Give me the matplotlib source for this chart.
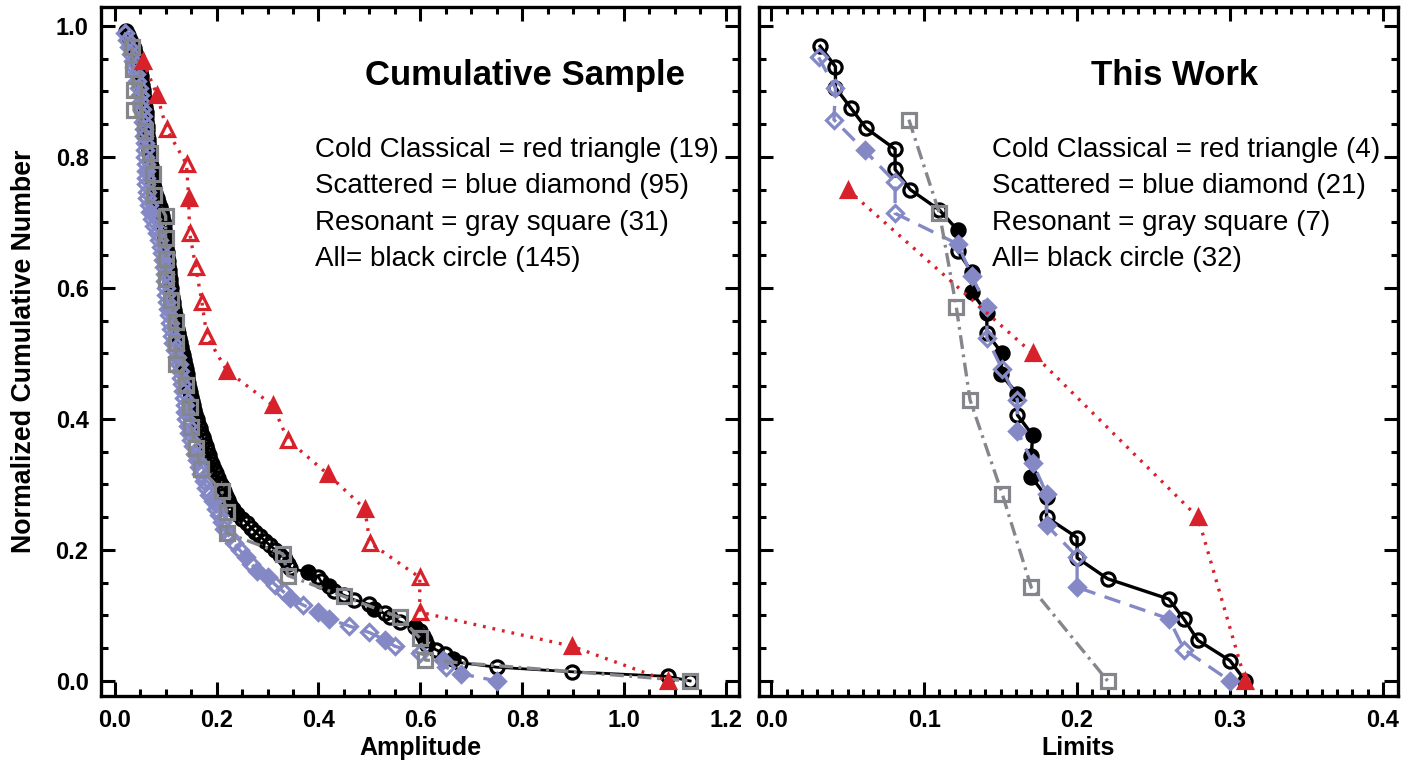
import matplotlib
matplotlib.use("Agg")
import matplotlib.pyplot as plt
from matplotlib.ticker import MultipleLocator

# ---- left panel: cumulative sample (amplitude, normalized cumulative number)
black_amp = [
    0.022, 0.026, 0.030, 0.034, 0.037, 0.040, 0.043, 0.045, 0.047, 0.049,
    0.051, 0.052, 0.053, 0.055, 0.056, 0.057, 0.058, 0.060, 0.061, 0.062,
    0.062, 0.063, 0.064, 0.064, 0.065, 0.066, 0.067, 0.068, 0.069, 0.070,
    0.071, 0.072, 0.073, 0.074, 0.075, 0.077, 0.079, 0.082, 0.085, 0.088,
    0.090, 0.092, 0.094, 0.096, 0.097, 0.098, 0.099, 0.100, 0.101, 0.102,
    0.103, 0.104, 0.105, 0.106, 0.107, 0.108, 0.109, 0.110, 0.111, 0.112,
    0.114, 0.115, 0.116, 0.118, 0.119, 0.121, 0.122, 0.124, 0.126, 0.128,
    0.130, 0.132, 0.134, 0.136, 0.138, 0.140, 0.141, 0.142, 0.144, 0.146,
    0.148, 0.150, 0.152, 0.154, 0.156, 0.158, 0.161, 0.164, 0.167, 0.170,
    0.173, 0.176, 0.179, 0.182, 0.185, 0.188, 0.191, 0.194, 0.198, 0.202,
    0.206, 0.210, 0.214, 0.218, 0.222, 0.226, 0.232, 0.240, 0.250, 0.260,
    0.268, 0.276, 0.285, 0.295, 0.305, 0.315, 0.325, 0.335, 0.340, 0.345,
    0.380, 0.400, 0.405, 0.420, 0.430, 0.450, 0.470, 0.500, 0.510, 0.530,
    0.540, 0.560, 0.590, 0.600, 0.605, 0.610, 0.613, 0.630, 0.648, 0.665,
    0.678, 0.750, 0.898, 1.086, 1.130,
]
black_frac = [
    0.993, 0.986, 0.979, 0.972, 0.966, 0.959, 0.952, 0.945, 0.938, 0.931,
    0.924, 0.917, 0.910, 0.903, 0.897, 0.890, 0.883, 0.876, 0.869, 0.862,
    0.855, 0.848, 0.841, 0.834, 0.828, 0.821, 0.814, 0.807, 0.800, 0.793,
    0.786, 0.779, 0.772, 0.766, 0.759, 0.752, 0.745, 0.738, 0.731, 0.724,
    0.717, 0.710, 0.703, 0.697, 0.690, 0.683, 0.676, 0.669, 0.662, 0.655,
    0.648, 0.641, 0.634, 0.628, 0.621, 0.614, 0.607, 0.600, 0.593, 0.586,
    0.579, 0.572, 0.566, 0.559, 0.552, 0.545, 0.538, 0.531, 0.524, 0.517,
    0.510, 0.503, 0.497, 0.490, 0.483, 0.476, 0.469, 0.462, 0.455, 0.448,
    0.441, 0.434, 0.428, 0.421, 0.414, 0.407, 0.400, 0.393, 0.386, 0.379,
    0.372, 0.366, 0.359, 0.352, 0.345, 0.338, 0.331, 0.324, 0.317, 0.310,
    0.303, 0.297, 0.290, 0.283, 0.276, 0.269, 0.262, 0.255, 0.248, 0.241,
    0.234, 0.228, 0.221, 0.214, 0.207, 0.200, 0.193, 0.186, 0.179, 0.172,
    0.166, 0.159, 0.152, 0.145, 0.138, 0.131, 0.124, 0.117, 0.110, 0.103,
    0.097, 0.090, 0.083, 0.076, 0.069, 0.062, 0.055, 0.048, 0.041, 0.034,
    0.028, 0.021, 0.014, 0.007, 0.000,
]
black_solid = [107, 120, 123, 128, 132, 134, 139]

blue_amp = [
    0.020, 0.024, 0.028, 0.031, 0.035, 0.038, 0.041, 0.044, 0.047, 0.049,
    0.051, 0.053, 0.055, 0.056, 0.057, 0.058, 0.059, 0.060, 0.060, 0.061,
    0.061, 0.062, 0.062, 0.063, 0.064, 0.067, 0.070, 0.074, 0.078, 0.082,
    0.086, 0.090, 0.092, 0.094, 0.096, 0.098, 0.099, 0.100, 0.101, 0.103,
    0.105, 0.107, 0.109, 0.111, 0.113, 0.115, 0.119, 0.123, 0.126, 0.128,
    0.130, 0.132, 0.134, 0.135, 0.137, 0.138, 0.140, 0.143, 0.146, 0.150,
    0.154, 0.158, 0.162, 0.166, 0.170, 0.175, 0.180, 0.186, 0.192, 0.198,
    0.205, 0.210, 0.215, 0.225, 0.235, 0.245, 0.258, 0.268, 0.280, 0.300,
    0.315, 0.330, 0.345, 0.370, 0.400, 0.420, 0.460, 0.500, 0.530, 0.550,
    0.600, 0.645, 0.650, 0.680, 0.750,
]
blue_frac = [
    0.989, 0.979, 0.968, 0.958, 0.947, 0.937, 0.926, 0.916, 0.905, 0.895,
    0.884, 0.874, 0.863, 0.853, 0.842, 0.832, 0.821, 0.811, 0.800, 0.789,
    0.779, 0.768, 0.758, 0.747, 0.737, 0.726, 0.716, 0.705, 0.695, 0.684,
    0.674, 0.663, 0.653, 0.642, 0.632, 0.621, 0.611, 0.600, 0.589, 0.579,
    0.568, 0.558, 0.547, 0.537, 0.526, 0.516, 0.505, 0.495, 0.484, 0.474,
    0.463, 0.453, 0.442, 0.432, 0.421, 0.411, 0.400, 0.389, 0.379, 0.368,
    0.358, 0.347, 0.337, 0.326, 0.316, 0.305, 0.295, 0.284, 0.274, 0.263,
    0.253, 0.242, 0.232, 0.221, 0.211, 0.200, 0.189, 0.179, 0.168, 0.158,
    0.147, 0.137, 0.126, 0.116, 0.105, 0.095, 0.084, 0.074, 0.063, 0.053,
    0.042, 0.032, 0.021, 0.011, 0.000,
]
blue_solid = [20, 26, 33, 40, 47, 55, 62, 68, 76, 78, 79, 82, 84, 85, 88, 91, 93, 94]

gray_amp = [
    0.033, 0.036, 0.037, 0.038, 0.060, 0.070, 0.075, 0.078, 0.100, 0.100,
    0.100, 0.100, 0.110, 0.120, 0.120, 0.120, 0.140, 0.147, 0.150, 0.160,
    0.170, 0.210, 0.220, 0.220, 0.330, 0.340, 0.450, 0.560, 0.600, 0.610,
    1.130,
]
gray_frac = [
    0.968, 0.935, 0.903, 0.871, 0.839, 0.806, 0.774, 0.742, 0.710, 0.677,
    0.645, 0.613, 0.581, 0.548, 0.516, 0.484, 0.452, 0.419, 0.387, 0.355,
    0.323, 0.290, 0.258, 0.226, 0.194, 0.161, 0.129, 0.097, 0.065, 0.032,
    0.000,
]

red_amp = [
    0.055, 0.083, 0.102, 0.141, 0.145, 0.147, 0.159, 0.171, 0.181, 0.220,
    0.310, 0.340, 0.418, 0.491, 0.501, 0.599, 0.599, 0.898, 1.086,
]
red_frac = [
    0.947, 0.895, 0.842, 0.789, 0.737, 0.684, 0.632, 0.579, 0.526, 0.474,
    0.421, 0.368, 0.316, 0.263, 0.211, 0.158, 0.105, 0.053, 0.000,
]
red_solid = [0, 1, 4, 9, 10, 12, 13, 17, 18]

# ---- right panel: this work (limits)
w_black_lim = [
    0.032, 0.042, 0.042, 0.052, 0.062, 0.081, 0.081, 0.091, 0.110, 0.122,
    0.122, 0.131, 0.131, 0.141, 0.141, 0.151, 0.150, 0.161, 0.161, 0.171,
    0.170, 0.170, 0.180, 0.180, 0.200, 0.200, 0.220, 0.260, 0.270, 0.279,
    0.300, 0.310,
]
w_black_frac = [
    0.969, 0.938, 0.906, 0.875, 0.844, 0.812, 0.781, 0.750, 0.719, 0.688,
    0.656, 0.625, 0.594, 0.562, 0.531, 0.500, 0.469, 0.438, 0.406, 0.375,
    0.344, 0.312, 0.281, 0.250, 0.219, 0.188, 0.156, 0.125, 0.094, 0.062,
    0.031, 0.000,
]
w_black_solid = [9, 11, 12, 13, 15, 16, 17, 19, 20, 21, 22]

w_blue_lim = [
    0.031, 0.042, 0.041, 0.061, 0.081, 0.081, 0.122, 0.131, 0.141, 0.141,
    0.151, 0.161, 0.161, 0.171, 0.180, 0.180, 0.200, 0.200, 0.260, 0.270,
    0.300,
]
w_blue_frac = [
    0.952, 0.905, 0.857, 0.810, 0.762, 0.714, 0.667, 0.619, 0.571, 0.524,
    0.476, 0.429, 0.381, 0.333, 0.286, 0.238, 0.190, 0.143, 0.095, 0.048,
    0.000,
]
w_blue_solid = [3, 6, 7, 8, 12, 13, 14, 15, 17, 18, 20]

w_gray_lim = [0.090, 0.110, 0.121, 0.130, 0.151, 0.170, 0.220]
w_gray_frac = [0.857, 0.714, 0.571, 0.429, 0.286, 0.143, 0.000]

w_red_lim = [0.050, 0.171, 0.279, 0.310]
w_red_frac = [0.750, 0.500, 0.250, 0.000]
w_red_solid = [0, 1, 2, 3]

left_notes = [
    "Cold Classical = red triangle (19)",
    "Scattered = blue diamond (95)",
    "Resonant = gray square (31)",
    "All= black circle (145)",
]
right_notes = [
    "Cold Classical = red triangle (4)",
    "Scattered = blue diamond (21)",
    "Resonant = gray square (7)",
    "All= black circle (32)",
]

RED = "#d8222b"
BLUE = "#8489c6"
GRAY = "#85858c"
BLACK = "#000000"

plt.rcParams["lines.scale_dashes"] = False
TICK_FONT = ["Liberation Sans Narrow", "Liberation Sans", "DejaVu Sans"]
NOTE_FONT = ["Liberation Sans", "DejaVu Sans"]


def draw_series(ax, x, y, color, dashes, marker, ms, solid=(), lw=2.0, z=2):
    ax.plot(x, y, color=color, lw=lw, dashes=dashes, zorder=z)
    xo = [v for i, v in enumerate(x) if i not in solid]
    yo = [v for i, v in enumerate(y) if i not in solid]
    xs = [v for i, v in enumerate(x) if i in solid]
    ys = [v for i, v in enumerate(y) if i in solid]
    ax.plot(xo, yo, ls="none", marker=marker, ms=ms, mfc="none", mec=color,
            mew=2.3, zorder=z)
    ax.plot(xs, ys, ls="none", marker=marker, ms=ms, mfc=color, mec=color,
            mew=2.3, zorder=z)


def style_axes(ax, xmaj, xmin):
    ax.xaxis.set_major_locator(MultipleLocator(xmaj))
    ax.xaxis.set_minor_locator(MultipleLocator(xmin))
    ax.yaxis.set_major_locator(MultipleLocator(0.2))
    ax.yaxis.set_minor_locator(MultipleLocator(0.05))
    ax.tick_params(which="both", direction="in", top=True, right=True, width=2.2)
    ax.tick_params(which="major", length=10, pad=9)
    ax.tick_params(which="minor", length=5)
    for sp in ax.spines.values():
        sp.set_linewidth(2.4)


fig = plt.figure(figsize=(14.05, 7.69), dpi=100)
ax1 = fig.add_axes([0.0719, 0.0949, 0.4541, 0.896])
ax2 = fig.add_axes([0.5402, 0.0949, 0.4548, 0.896])

# left panel
draw_series(ax1, black_amp, black_frac, BLACK, (None, None), "o", 9.5, black_solid, lw=2.0, z=2)
draw_series(ax1, blue_amp, blue_frac, BLUE, (12, 7), "D", 8, blue_solid, lw=2.4, z=3)
draw_series(ax1, gray_amp, gray_frac, GRAY, (10, 4, 2, 4), "s", 9.5, (), lw=2.4, z=4)
draw_series(ax1, red_amp, red_frac, RED, (2, 5), "^", 10.5, red_solid, lw=2.4, z=5)

ax1.set_xlim(-0.027, 1.226)
ax1.set_ylim(-0.023, 1.029)
style_axes(ax1, 0.2, 0.05)
ax1.set_xticks([0.0, 0.2, 0.4, 0.6, 0.8, 1.0, 1.2])
ax1.set_xticklabels(["0.0", "0.2", "0.4", "0.6", "0.8", "1.0", "1.2"],
                    family=TICK_FONT, fontweight="bold", fontsize=17)
ax1.set_yticks([0.0, 0.2, 0.4, 0.6, 0.8, 1.0])
ax1.set_yticklabels(["0.0", "0.2", "0.4", "0.6", "0.8", "1.0"],
                    family=TICK_FONT, fontweight="bold", fontsize=17)
ax1.set_xlabel("Amplitude", family=TICK_FONT, fontweight="bold", fontsize=18, labelpad=3)
ax1.set_ylabel("Normalized Cumulative Number", family=TICK_FONT, fontweight="bold",
               fontsize=19.3, labelpad=13)

ax1.text(0.665, 0.90, "Cumulative Sample", transform=ax1.transAxes, ha="center",
         va="center", family=NOTE_FONT, fontweight="bold", fontsize=25)
for i, s in enumerate(left_notes):
    ax1.text(0.335, 0.792 - i * 0.0525, s, transform=ax1.transAxes, ha="left",
             va="center", family=NOTE_FONT, fontsize=20)

# right panel
draw_series(ax2, w_black_lim, w_black_frac, BLACK, (None, None), "o", 9.5, w_black_solid, lw=2.4, z=2)
draw_series(ax2, w_blue_lim, w_blue_frac, BLUE, (12, 7), "D", 8, w_blue_solid, lw=2.4, z=3)
draw_series(ax2, w_gray_lim, w_gray_frac, GRAY, (10, 4, 2, 4), "s", 9.5, (), lw=2.4, z=4)
draw_series(ax2, w_red_lim, w_red_frac, RED, (2, 5), "^", 10.5, w_red_solid, lw=2.4, z=5)

ax2.set_xlim(-0.008, 0.4098)
ax2.set_ylim(-0.023, 1.029)
style_axes(ax2, 0.1, 0.01)
ax2.set_xticks([0.0, 0.1, 0.2, 0.3, 0.4])
ax2.set_xticklabels(["0.0", "0.1", "0.2", "0.3", "0.4"],
                    family=TICK_FONT, fontweight="bold", fontsize=17)
ax2.tick_params(labelleft=False)
ax2.set_xlabel("Limits", family=TICK_FONT, fontweight="bold", fontsize=18, labelpad=3)

ax2.text(0.651, 0.90, "This Work", transform=ax2.transAxes, ha="center",
         va="center", family=NOTE_FONT, fontweight="bold", fontsize=25)
for i, s in enumerate(right_notes):
    ax2.text(0.365, 0.792 - i * 0.0525, s, transform=ax2.transAxes, ha="left",
             va="center", family=NOTE_FONT, fontsize=20)

fig.savefig("out.png", dpi=100)
